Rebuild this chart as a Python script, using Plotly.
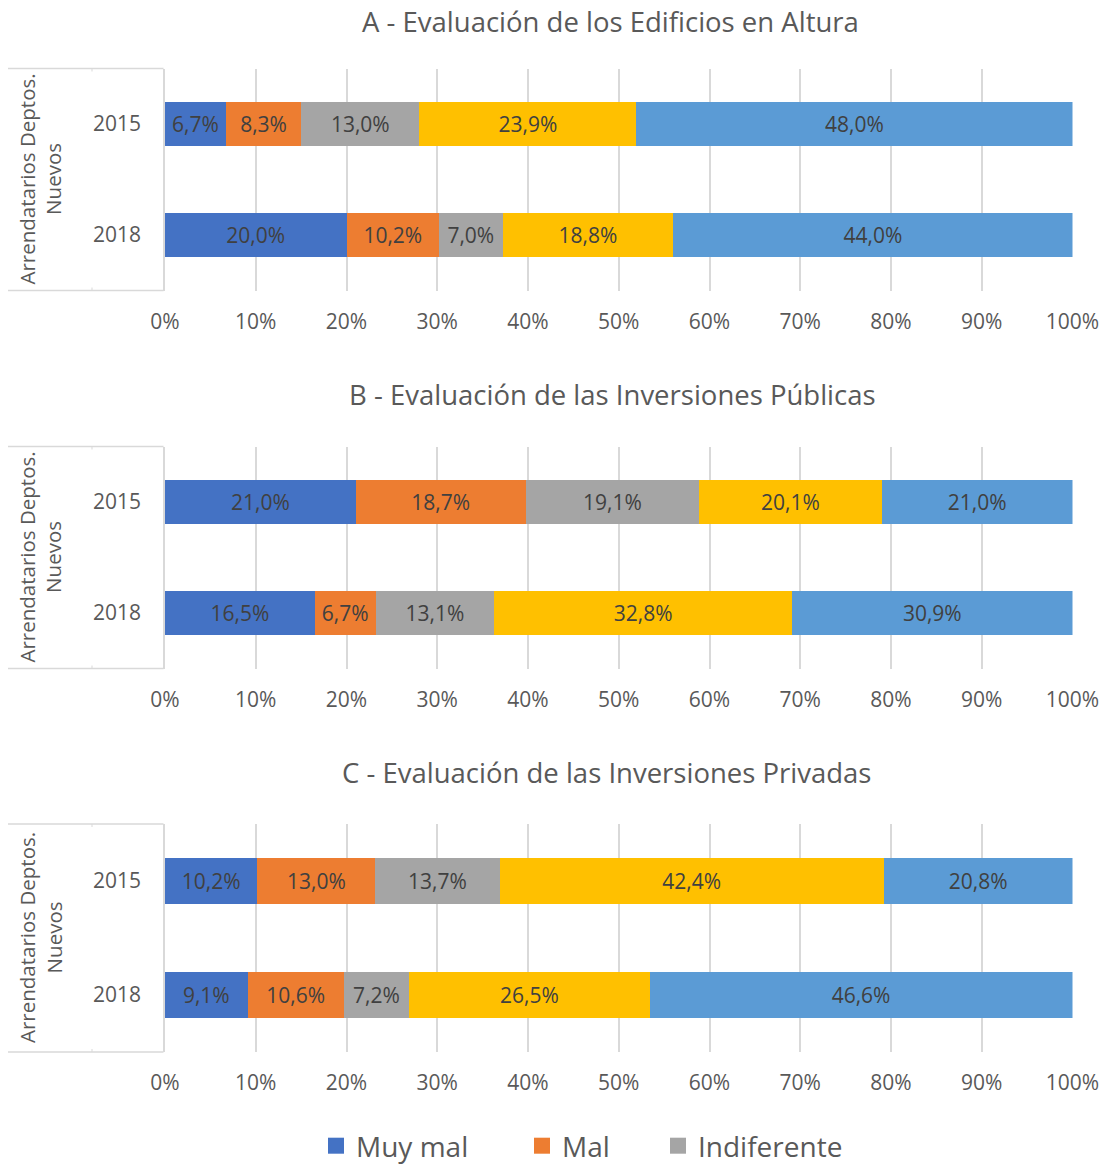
import plotly.graph_objects as go

# ---- data ----
years = ["2015", "2018"]
series_names = ["Muy mal", "Mal", "Indiferente", "Bien", "Muy bien"]
series_colors = ["#4472C4", "#ED7D31", "#A5A5A5", "#FFC000", "#5B9BD5"]

panel_titles = [
    "A - Evaluación de los Edificios en Altura",
    "B - Evaluación de las Inversiones Públicas",
    "C - Evaluación de las Inversiones Privadas",
]

# values per panel: one list per series, ordered as `years`
edificios_altura = [
    [6.7, 20.0],
    [8.3, 10.2],
    [13.0, 7.0],
    [23.9, 18.8],
    [48.0, 44.0],
]
inversiones_publicas = [
    [21.0, 16.5],
    [18.7, 6.7],
    [19.1, 13.1],
    [20.1, 32.8],
    [21.0, 30.9],
]
inversiones_privadas = [
    [10.2, 9.1],
    [13.0, 10.6],
    [13.7, 7.2],
    [42.4, 26.5],
    [20.8, 46.6],
]
panels = [edificios_altura, inversiones_publicas, inversiones_privadas]

x_ticks = list(range(0, 101, 10))
group_label = "Arrendatarios Deptos.<br>Nuevos"

# ---- layout geometry (pixels) ----
W, H = 1105, 1166
plot_left, plot_right = 165, 1072.5
panel_px = [(68.5, 290.5), (446.5, 668.5), (824, 1052)]
title_px = [22, 394, 772]
title_cx = [610, 612, 606]
box_left = 8
FONT = "Open Sans"
GRID = "#D9D9D9"
TXT = "#595959"


def pct(v):
    return f"{v:.1f}".replace(".", ",") + "%"


def py(px):
    return 1 - px / H


def pxx(px):
    return px / W


fig = go.Figure()
layout = dict(
    width=W,
    height=H,
    margin=dict(l=0, r=0, t=0, b=0, autoexpand=False),
    paper_bgcolor="white",
    plot_bgcolor="white",
    barmode="stack",
    barnorm="percent",
    bargap=0.6,
    font=dict(family=FONT, color=TXT),
    annotations=[],
    shapes=[],
)

for p, data in enumerate(panels):
    idx = "" if p == 0 else str(p + 1)
    xa, ya = "x" + idx, "y" + idx
    for s, vals in enumerate(data):
        fig.add_trace(go.Bar(
            x=vals,
            y=years,
            orientation="h",
            name=series_names[s],
            marker=dict(color=series_colors[s], line=dict(width=0)),
            text=[pct(v) for v in vals],
            textposition="inside",
            insidetextanchor="middle",
            textangle=0,
            constraintext="none",
            textfont=dict(family=FONT, size=21, color="#404040"),
            showlegend=False,
            hoverinfo="skip",
            xaxis=xa,
            yaxis=ya,
        ))

    top, bot = panel_px[p]
    layout["xaxis" + idx] = dict(
        domain=[pxx(plot_left), pxx(plot_right)],
        range=[0, 100],
        tickvals=x_ticks,
        ticktext=[f"{t}%" for t in x_ticks],
        showgrid=True,
        gridcolor=GRID,
        gridwidth=1.5,
        zeroline=False,
        showline=False,
        ticks="",
        ticklabelstandoff=16,
        automargin=False,
        tickfont=dict(family=FONT, size=21, color=TXT),
        anchor=ya,
        fixedrange=True,
    )
    layout["yaxis" + idx] = dict(
        domain=[py(bot), py(top)],
        type="category",
        categoryorder="array",
        categoryarray=years[::-1],
        showgrid=False,
        zeroline=False,
        showline=True,
        linecolor=GRID,
        linewidth=1.5,
        ticks="",
        ticklabelstandoff=18,
        automargin=False,
        tickfont=dict(family=FONT, size=21, color=TXT),
        anchor=xa,
        fixedrange=True,
    )

    # multi-level category frame on the left
    for yy in (top, bot):
        layout["shapes"].append(dict(
            type="line", xref="paper", yref="paper",
            x0=pxx(box_left), x1=pxx(plot_left - 1.5), y0=py(yy), y1=py(yy),
            line=dict(color=GRID, width=1.5),
        ))
    layout["shapes"].append(dict(
        type="line", xref="paper", yref="paper",
        x0=pxx(92), x1=pxx(92), y0=py(top), y1=py(top + 3),
        line=dict(color=GRID, width=1),
    ))
    layout["shapes"].append(dict(
        type="line", xref="paper", yref="paper",
        x0=pxx(92), x1=pxx(92), y0=py(bot), y1=py(bot - 3),
        line=dict(color=GRID, width=1),
    ))

    layout["annotations"].append(dict(
        text=group_label, xref="paper", yref="paper",
        x=pxx(40), y=py((top + bot) / 2), xanchor="center", yanchor="middle",
        textangle=-90, showarrow=False,
        font=dict(family=FONT, size=20.5, color=TXT),
    ))
    layout["annotations"].append(dict(
        text=panel_titles[p], xref="paper", yref="paper",
        x=pxx(title_cx[p]), y=py(title_px[p]), xanchor="center", yanchor="middle",
        showarrow=False,
        font=dict(family=FONT, size=27.5, color=TXT),
    ))

# legend entries (first three categories), one legend box per entry
legend_x = [316, 522, 658]
for i in range(3):
    key = "legend" if i == 0 else f"legend{i + 1}"
    fig.add_trace(go.Scatter(
        x=[None], y=[None],
        mode="markers",
        marker=dict(symbol="square", size=16, color=series_colors[i]),
        name=series_names[i],
        showlegend=True,
        legend=key,
        hoverinfo="skip",
        xaxis="x3", yaxis="y3",
    ))
    layout[key] = dict(
        orientation="h",
        x=pxx(legend_x[i]), xanchor="left",
        y=py(1146), yanchor="middle",
        bgcolor="rgba(0,0,0,0)",
        itemsizing="trace",
        font=dict(family=FONT, size=28, color=TXT),
    )

fig.update_layout(**layout)
fig.write_html("out.html")
